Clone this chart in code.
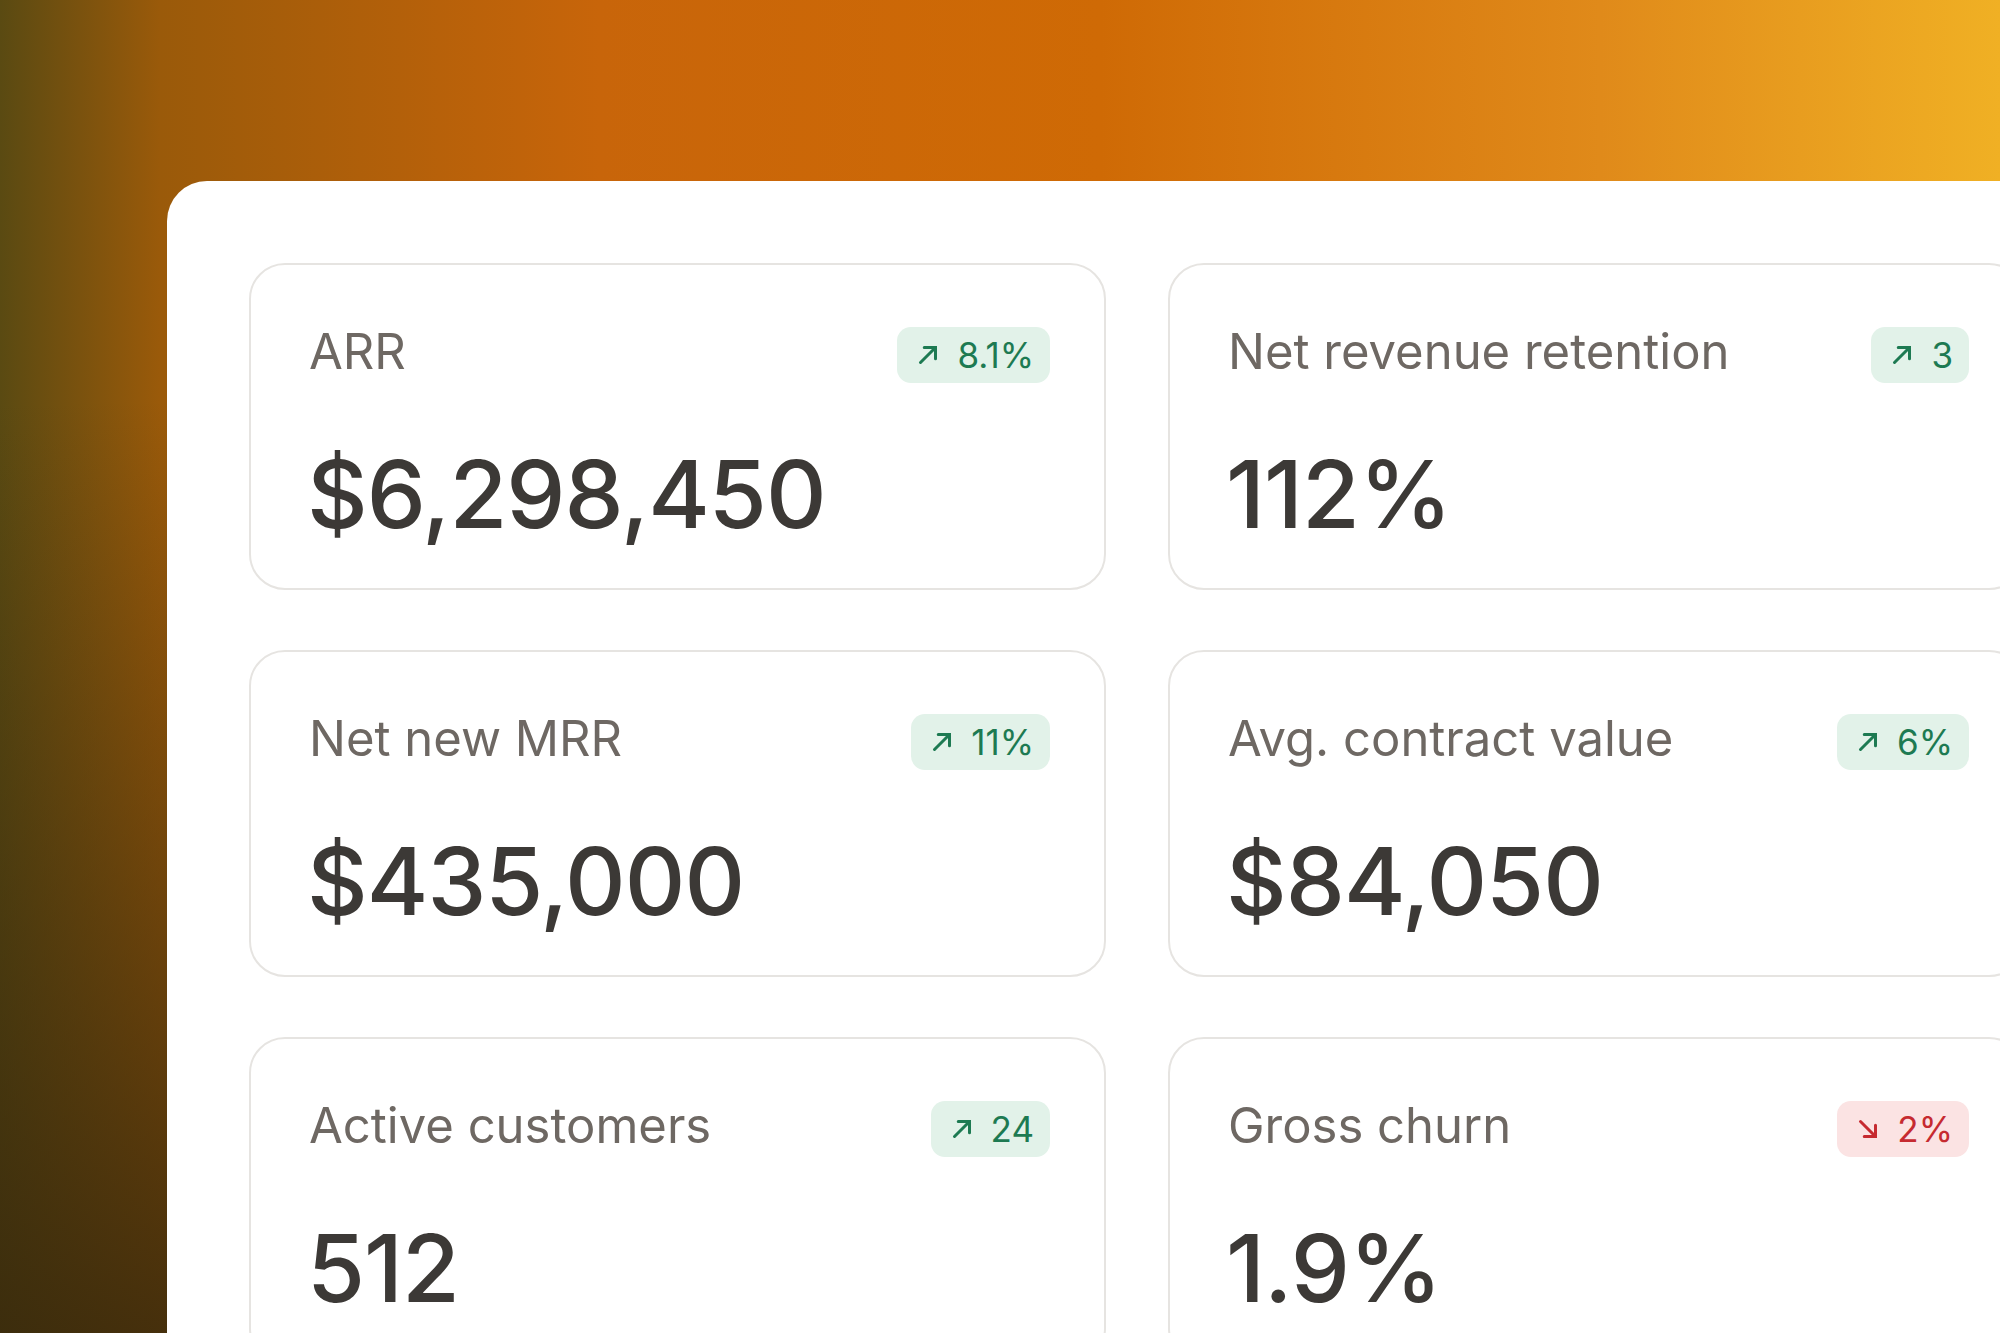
<!DOCTYPE html>
<html>
<head>
<meta charset="utf-8">
<script src="https://cdn.jsdelivr.net/npm/chart.js@4/dist/chart.umd.min.js"></script>
<style>
  html, body { margin: 0; width: 2000px; height: 1333px; overflow: hidden; }
  body {
    font-family: Inter, "Noto Sans", sans-serif;
    background:
      linear-gradient(180deg, rgba(60,45,15,0) 30%, rgba(55,40,12,0.85) 100%),
      linear-gradient(90deg, #5a4a12 0%, #9a5a0a 8%, #c8650a 30%, #cf6a05 55%, #e08a1a 80%, #f0b024 100%);
    position: relative;
  }
  .panel {
    position: absolute; left: 167px; top: 181px; width: 1900px; height: 1300px;
    background: #fff; border-radius: 40px;
  }
  .card {
    position: absolute; width: 857px; height: 327px; box-sizing: border-box;
    border: 2px solid #e6e4e1; border-radius: 36px; background: #fff;
  }
  .label { position: absolute; left: 58px; top: 62px; font-size: 49px; color: #6e6863; line-height: 1; }
  .value { position: absolute; left: 56px; top: 182px; font-size: 94px; color: #3c3936; line-height: 1; font-weight: 500; letter-spacing: -1px; }
  .badge {
    position: absolute; right: 54px; top: 62px; height: 56px; border-radius: 14px;
    padding: 0 16px 0 16px; display: flex; align-items: center; gap: 14px;
    font-size: 35px; line-height: 1;
  }
  .up { background: #e2f2e9; color: #1d7a52; }
  .down { background: #fbe3e3; color: #c62a30; }
  .badge svg { width: 30px; height: 30px; }
</style>
</head>
<body>
<div class="panel"></div>
<div id="cards"></div>
<script>
const labels = ['ARR', 'Net revenue retention', 'Net new MRR', 'Avg. contract value', 'Active customers', 'Gross churn'];
const values = ['$6,298,450', '112%', '$435,000', '$84,050', '512', '1.9%'];
const changes = ['8.1%', '3', '11%', '6%', '24', '2%'];
const directions = ['up', 'up', 'up', 'up', 'up', 'down'];

const colX = [249, 1168];
const rowY = [263, 650, 1037];
const host = document.getElementById('cards');
const arrowUp = '<svg viewBox="0 0 24 24" fill="none" stroke="currentColor" stroke-width="2.4" stroke-linecap="round"><path d="M6 18L18 6M9 6h9v9"/></svg>';
const arrowDown = '<svg viewBox="0 0 24 24" fill="none" stroke="currentColor" stroke-width="2.4" stroke-linecap="round"><path d="M6 6l12 12M18 9v9H9"/></svg>';

labels.forEach((label, i) => {
    const card = document.createElement('div');
    card.className = 'card';
    card.style.left = colX[i % 2] + 'px';
    card.style.top = rowY[Math.floor(i / 2)] + 'px';
    const dir = directions[i];
    card.innerHTML =
        `<div class="label">${label}</div>` +
        `<div class="badge ${dir}">${dir === 'up' ? arrowUp : arrowDown}<span>${changes[i]}</span></div>` +
        `<div class="value">${values[i]}</div>`;
    host.appendChild(card);
});
</script>
</body>
</html>
